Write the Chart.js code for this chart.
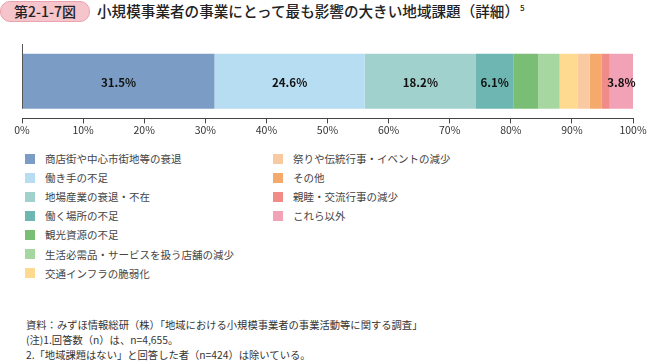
<!DOCTYPE html>
<html lang="ja">
<head>
<meta charset="utf-8">
<script src="https://cdn.jsdelivr.net/npm/chart.js@4"></script>
<style>
  body{margin:0;width:664px;height:363px;background:#fff;position:relative;overflow:hidden;
    font-family:"Noto Sans CJK JP","Noto Sans",sans-serif;color:#333;}
  .pill{position:absolute;left:0;top:1px;width:88px;height:19px;border:1px solid #e9a3ad;border-radius:10px;
    background:#f6c4cb;font-size:14px;line-height:19px;text-align:center;color:#222;font-weight:500;}
  .title{position:absolute;left:97px;top:1px;font-size:14.6px;line-height:19px;color:#222;font-weight:500;}
  .title sup{font-size:8px;vertical-align:top;position:relative;top:-3px;margin-left:1px;}
  #wrap{position:absolute;left:0;top:40px;width:664px;height:100px;}
  .legend{position:absolute;font-size:10.5px;color:#444;}
  .legend div{height:19.1px;display:flex;align-items:center;}
  .legend i{display:inline-block;width:10px;height:10px;margin-right:10px;flex:none;}
  .notes{position:absolute;left:26px;top:317px;font-size:10.3px;line-height:15px;color:#333;}
</style>
</head>
<body>
<div class="pill">第2-1-7図</div>
<div class="title">小規模事業者の事業にとって最も影響の大きい地域課題（詳細）<sup>5</sup></div>
<div id="wrap"><canvas id="chart"></canvas></div>
<div class="legend" id="legL" style="left:25px;top:149px;"></div>
<div class="legend" id="legR" style="left:273px;top:149px;"></div>
<div class="notes">
  資料：みずほ情報総研（株）「地域における小規模事業者の事業活動等に関する調査」<br>
  (注)1.回答数（n）は、n=4,655。<br>
  2.「地域課題はない」と回答した者（n=424）は除いている。
</div>
<script>
const categories = [
  "商店街や中心市街地等の衰退","働き手の不足","地場産業の衰退・不在","働く場所の不足",
  "観光資源の不足","生活必需品・サービスを扱う店舗の減少","交通インフラの脆弱化",
  "祭りや伝統行事・イベントの減少","その他","親睦・交流行事の減少","これら以外"
];
const values = [31.5, 24.6, 18.2, 6.1, 4.1, 3.5, 2.9, 2.0, 2.0, 1.3, 3.8];
const showLabel = [true, true, true, true, false, false, false, false, false, false, true];
const xTicks = [0,10,20,30,40,50,60,70,80,90,100];

const colors = ["#7b9dc5","#b7ddf2","#a0d1cc","#6eb6b1","#7abd75","#a7d7a1",
  "#fdda90","#f9caa2","#f5aa6b","#f08b87","#f2a2b6"];

// legend (7 rows left, 4 rows right)
categories.forEach((c,i)=>{
  const el = document.getElementById(i<7 ? "legL" : "legR");
  el.innerHTML += `<div><i style="background:${colors[i]}"></i>${c}</div>`;
});

const barLabels = {
  id:"barLabels",
  afterDatasetsDraw(chart){
    const ctx = chart.ctx;
    ctx.save();
    ctx.font = "bold 11.5px 'Noto Sans CJK JP', sans-serif";
    ctx.fillStyle = "#111";
    ctx.textAlign = "center";
    ctx.textBaseline = "middle";
    chart.data.datasets.forEach((ds,i)=>{
      if(!showLabel[i]) return;
      const bar = chart.getDatasetMeta(i).data[0];
      const {x, base, y} = bar.getProps(["x","base","y"], true);
      ctx.fillText(values[i].toFixed(1)+"%", (x+base)/2, y+1);
    });
    // left axis line
    const a = chart.chartArea;
    const b0 = chart.getDatasetMeta(0).data[0];
    ctx.strokeStyle = "#555";
    ctx.lineWidth = 1;
    ctx.beginPath();
    ctx.moveTo(Math.round(a.left)+0.5, a.top);
    ctx.lineTo(Math.round(a.left)+0.5, b0.y + b0.height/2);
    ctx.stroke();
    ctx.restore();
  }
};

new Chart(document.getElementById("chart"),{
  type:"bar",
  data:{
    labels:[""],
    datasets: categories.map((c,i)=>({
      label:c,
      data:[values[i]],
      backgroundColor:colors[i],
      borderWidth:0
    }))
  },
  options:{
    indexAxis:"y",
    responsive:true,
    maintainAspectRatio:false,
    animation:false,
    layout:{padding:{left:22,right:31,top:4,bottom:4}},
    plugins:{legend:{display:false},tooltip:{enabled:false}},
    datasets:{bar:{categoryPercentage:1,barPercentage:0.74}},
    scales:{
      x:{
        stacked:true,min:0,max:100,
        afterBuildTicks(ax){ ax.ticks = xTicks.map(v=>({value:v})); },
        grid:{drawOnChartArea:false,tickLength:5,color:"#444"},
        border:{color:"#444"},
        ticks:{callback:v=>v+"%",color:"#333",font:{size:10.5,family:"'Noto Sans CJK JP', sans-serif"},padding:0,maxRotation:0}
      },
      y:{stacked:true,display:false}
    }
  },
  plugins:[barLabels]
});
</script>
</body>
</html>
